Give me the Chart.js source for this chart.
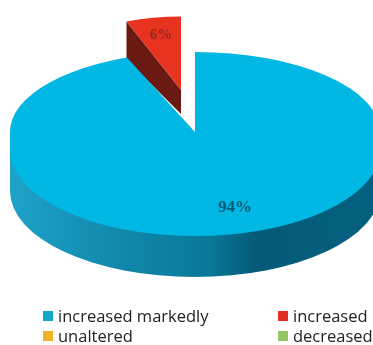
<!DOCTYPE html>
<html>
<head>
<meta charset="utf-8">
<script src="https://cdn.jsdelivr.net/npm/chart.js@4"></script>
<style>
  body { margin: 0; background: #fff; }
  #wrap { position: relative; width: 373px; height: 345px; overflow: hidden; }
  .item { position: absolute; font: 16.5px "Open Sans", sans-serif; color: #222; line-height: 20px; white-space: nowrap; }
  .item i { position: absolute; left: -15px; top: 5px; width: 10px; height: 10px; }
</style>
</head>
<body>
<div id="wrap">
  <canvas id="pie" width="373" height="345"></canvas>
  <div id="legend"></div>
</div>
<script>
const categories = ["increased markedly", "increased", "unaltered", "decreased"];
const values = [94, 6, 0, 0];
const sliceColors = ["#00b8e3", "#e7331f", "#eeb429", "#96c565"];
const swatchColors = ["#12a8c9", "#e02f22", "#eeb429", "#96c565"];
const labelColors = ["#0d5a78", "#93281b"];
const labelSizes = [17, 15];

// the top face is squashed more above the centre than below it, with a short
// straight band in between, which gives the disc a perspective look
const squashUp = 80 / 185;
const squashDown = 86 / 185;
const band = 18;
const depth = 41;

// pulled-out slice: shift on screen and size relative to the main disc
const pulled = { 1: { dx: -14, dy: -42, sx: 0.8, sy: 0.92 } };
const labelPos = [[235, 208], [161, 35]];

function face(ctx, arc, lower, paint) {
  const p = pulled[arc.$index] || { dx: 0, dy: 0, sx: 1, sy: 1 };
  const cy = arc.y + p.dy + (lower ? band : 0);
  ctx.save();
  ctx.beginPath();
  if (lower) ctx.rect(0, cy, 373, 345);
  else ctx.rect(0, 0, 373, cy);
  ctx.clip();
  ctx.translate(arc.x + p.dx, cy);
  ctx.scale(p.sx, (lower ? squashDown : squashUp) * p.sy);
  ctx.translate(-arc.x, -arc.y);
  paint();
  ctx.restore();
}

function drawOuterWall(ctx, arc) {
  const grad = ctx.createLinearGradient(10, 0, 373, 0);
  grad.addColorStop(0, "#1fa2c9");
  grad.addColorStop(0.3, "#1088ab");
  grad.addColorStop(0.55, "#0a7898");
  grad.addColorStop(0.68, "#045a78");
  grad.addColorStop(1, "#05607f");
  ctx.save();
  ctx.translate(0, depth);
  face(ctx, arc, true, () => {
    ctx.fillStyle = grad;
    ctx.beginPath();
    ctx.arc(arc.x, arc.y, arc.outerRadius, 0, Math.PI);
    ctx.fill();
  });
  ctx.restore();
  ctx.fillStyle = grad;
  ctx.fillRect(arc.x - arc.outerRadius, arc.y, arc.outerRadius * 2, band + depth);
}

// cut face of the pulled slice, seen through the gap
function drawCutWall(ctx, arc) {
  const p = pulled[arc.$index];
  const rimX = arc.x + p.dx + Math.cos(arc.startAngle) * arc.outerRadius * p.sx;
  const rimY = arc.y + p.dy + Math.sin(arc.startAngle) * arc.outerRadius * squashUp * p.sy;
  const apexX = arc.x + p.dx;
  const apexY = arc.y + p.dy;
  ctx.fillStyle = "#6a1a13";
  ctx.beginPath();
  ctx.moveTo(apexX, apexY);
  ctx.lineTo(rimX, rimY);
  ctx.lineTo(rimX, rimY + 38);
  ctx.lineTo(apexX, apexY + 24);
  ctx.closePath();
  ctx.fill();
}

const pie3d = {
  id: "pie3d",
  beforeDatasetDraw(chart, args) {
    const ctx = chart.ctx;
    const arcs = args.meta.data;
    arcs.forEach((arc, i) => { arc.$index = i; });

    // pulled slice goes first, the main disc overlaps its cut face
    arcs.forEach((arc, i) => {
      if (!pulled[i] || !values[i]) return;
      drawCutWall(ctx, arc);
      face(ctx, arc, false, () => arc.draw(ctx));
    });
    arcs.forEach((arc, i) => {
      if (pulled[i] || !values[i]) return;
      drawOuterWall(ctx, arc);
      face(ctx, arc, false, () => arc.draw(ctx));
      ctx.fillStyle = arc.options.backgroundColor;
      ctx.fillRect(arc.x - arc.outerRadius, arc.y, arc.outerRadius * 2, band);
      face(ctx, arc, true, () => arc.draw(ctx));
    });

    ctx.textAlign = "center";
    ctx.textBaseline = "middle";
    labelPos.forEach((pos, i) => {
      ctx.font = "bold " + labelSizes[i] + "px 'Liberation Serif', serif";
      ctx.fillStyle = labelColors[i];
      ctx.fillText(values[i] + "%", pos[0], pos[1]);
    });
    return false;
  }
};

new Chart(document.getElementById("pie"), {
  type: "pie",
  data: {
    labels: categories,
    datasets: [{ data: values, backgroundColor: sliceColors, borderWidth: 0 }]
  },
  options: {
    responsive: false,
    animation: false,
    radius: 185,
    layout: { padding: { left: 17, bottom: 81 } },
    plugins: { legend: { display: false }, tooltip: { enabled: false } }
  },
  plugins: [pie3d]
});

// two-column legend under the pie
const legendSpots = [[58, 306], [293, 306], [58, 326], [293, 326]];
categories.forEach((name, i) => {
  const el = document.createElement("div");
  el.className = "item";
  el.style.left = legendSpots[i][0] + "px";
  el.style.top = legendSpots[i][1] + "px";
  el.innerHTML = '<i style="background:' + swatchColors[i] + '"></i>' + name;
  document.getElementById("legend").appendChild(el);
});
</script>
</body>
</html>
